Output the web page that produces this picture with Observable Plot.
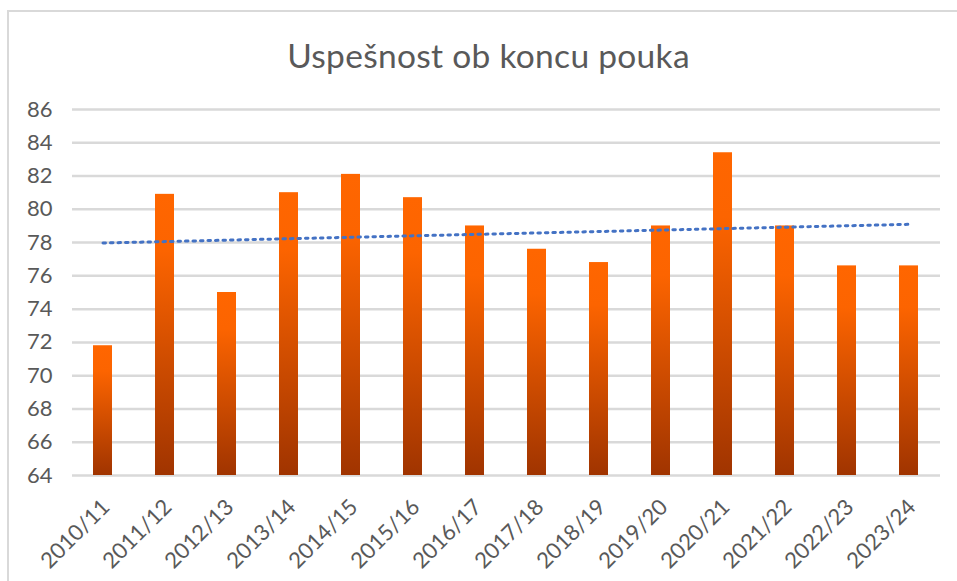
<!DOCTYPE html>
<html>
<head>
<meta charset="utf-8">
<script src="https://cdn.jsdelivr.net/npm/d3@7"></script>
<script src="https://cdn.jsdelivr.net/npm/@observablehq/plot@0.6"></script>
<style>
  html, body { margin: 0; padding: 0; background: #fff; overflow: hidden; }
  #wrap { position: relative; width: 957px; height: 581px; overflow: hidden; font-family: Lato, "Open Sans", sans-serif; }
  #frame { position: absolute; left: 7px; top: 10px; width: 1100px; height: 1100px; border-left: 2px solid #D9D9D9; border-top: 2px solid #D9D9D9; }
  #title { position: absolute; left: 0; width: 977px; top: 35px; text-align: center; font-size: 33.5px; color: #595959; letter-spacing: 0.3px; }
  #chart { position: absolute; left: 0; top: 90px; }
</style>
</head>
<body>
<div id="wrap">
  <div id="frame"></div>
  <div id="title">Uspešnost ob koncu pouka</div>
  <div id="chart"></div>
</div>
<script>
const categories = ["2010/11","2011/12","2012/13","2013/14","2014/15","2015/16","2016/17","2017/18","2018/19","2019/20","2020/21","2021/22","2022/23","2023/24"];
const values = [71.8, 80.9, 75.0, 81.0, 82.1, 80.7, 79.0, 77.6, 76.8, 79.0, 83.4, 79.0, 76.6, 76.6];
const yTicks = [64, 66, 68, 70, 72, 74, 76, 78, 80, 82, 84, 86];

const data = categories.map((c, i) => ({cat: c, value: values[i], i}));

// linear trendline (least squares) from the data
const mx = d3.mean(data, d => d.i), my = d3.mean(values);
const slope = d3.sum(data, d => (d.i - mx) * (d.value - my)) / d3.sum(data, d => (d.i - mx) ** 2);
const trend = data.map(d => ({cat: d.cat, t: my + slope * (d.i - mx)}));

const plot = Plot.plot({
  width: 957,
  height: 491,
  marginTop: 19,
  marginBottom: 106,
  marginLeft: 72,
  marginRight: 17,
  style: {fontFamily: "Lato, 'Open Sans', sans-serif", color: "#595959", background: "transparent", overflow: "visible"},
  x: {type: "band", domain: categories, paddingInner: 0.69, paddingOuter: 0.345, label: null},
  y: {domain: [64, 86], label: null},
  marks: [
    Plot.gridY(yTicks, {stroke: "#D9D9D9", strokeOpacity: 1, strokeWidth: 2.5}),
    Plot.barY(data, {x: "cat", y1: 64, y2: "value", fill: "url(#barGrad)"}),
    Plot.line(trend, {x: "cat", y: "t", stroke: "#4472C4", strokeWidth: 3, strokeDasharray: "2.5,5"}),
    Plot.axisY(yTicks, {tickSize: 0, tickPadding: 20, fontSize: 22, fill: "#595959", label: null}),
    Plot.axisX({tickSize: 0, tickRotate: -45, tickPadding: 28, dx: 3, fontSize: 22, fill: "#595959", label: null})
  ]
});

// gradient definition for bars
const svgNS = "http://www.w3.org/2000/svg";
const defs = document.createElementNS(svgNS, "defs");
const grad = document.createElementNS(svgNS, "linearGradient");
grad.setAttribute("id", "barGrad");
grad.setAttribute("x1", "0"); grad.setAttribute("y1", "0");
grad.setAttribute("x2", "0"); grad.setAttribute("y2", "1");
[["0", "#FF6600"], ["0.2", "#FC6400"], ["1", "#A03400"]].forEach(([o, c]) => {
  const s = document.createElementNS(svgNS, "stop");
  s.setAttribute("offset", o);
  s.setAttribute("stop-color", c);
  grad.appendChild(s);
});
defs.appendChild(grad);
plot.insertBefore(defs, plot.firstChild);

document.getElementById("chart").appendChild(plot);
</script>
</body>
</html>
